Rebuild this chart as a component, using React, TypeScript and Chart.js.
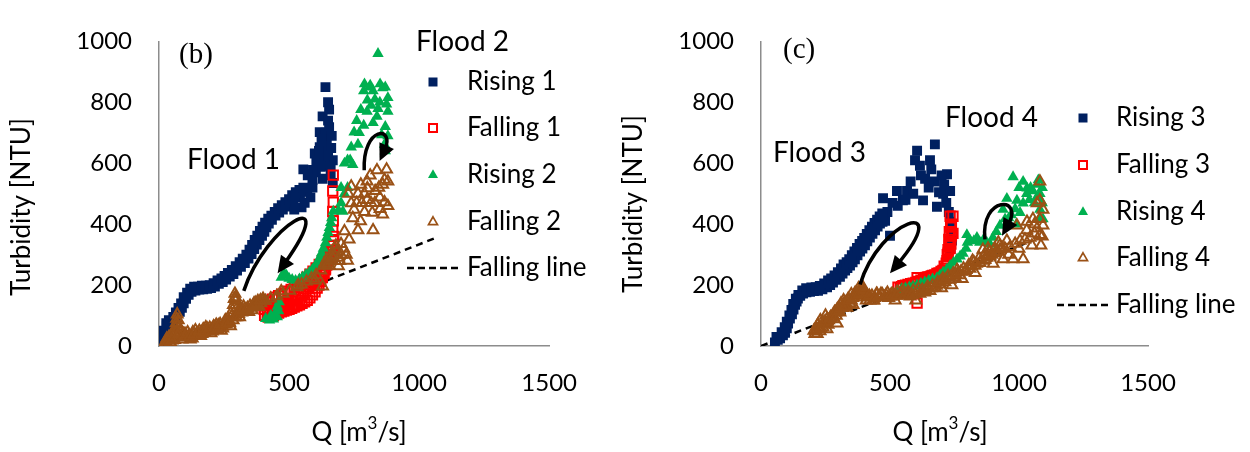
import React, { useEffect, useRef } from 'react';
import { Chart, registerables } from 'chart.js';

Chart.register(...registerables);

type Pt = [number, number];

// ---------------- DATA ----------------
const xTickValues = [0, 500, 1000, 1500];
const yTickValues = [0, 200, 400, 600, 800, 1000];

// Panel (b) — Flood 1 / Flood 2
const rising1: Pt[] = [
  [5, 5], [15, 12], [12, 30], [22, 45], [30, 65], [42, 70], [52, 75], [60, 88], [70, 100], [80, 112],
  [88, 125], [95, 140], [104, 155], [114, 168], [125, 178], [140, 182], [155, 185], [170, 186], [185, 188], [200, 190],
  [215, 195], [230, 204], [245, 210], [258, 218], [272, 228], [286, 236], [300, 248], [315, 260], [330, 272], [344, 287],
  [356, 302], [366, 318], [376, 333], [386, 348], [396, 362], [405, 375], [413, 390], [422, 402], [434, 414], [448, 428],
  [462, 438], [476, 448], [490, 458], [503, 468], [516, 478], [528, 488], [542, 498], [556, 506], [570, 510], [582, 488],
  [560, 470], [548, 455], [520, 448], [590, 520], [555, 580], [580, 564], [603, 570], [629, 549], [599, 632], [618, 653],
  [640, 632], [636, 684], [618, 702], [654, 718], [629, 754], [654, 776], [640, 850], [668, 610], [660, 561], [647, 592],
  [612, 598], [626, 620], [645, 660], [662, 650], [640, 700], [625, 680], [650, 740], [664, 690], [650, 800], [622, 588],
  [592, 578], [572, 560], [668, 535], [605, 610], [635, 600], [615, 640], [650, 625], [590, 545], [660, 590],
  [8, 20], [18, 50], [28, 75], [38, 85], [55, 95], [65, 110], [75, 125], [85, 140], [95, 160], [108, 175],
  [120, 188], [135, 195], [150, 195], [165, 198], [180, 198], [195, 200], [210, 206], [225, 215], [240, 222], [252, 230],
  [265, 240], [280, 250], [295, 262], [310, 275], [322, 287], [336, 300], [348, 316], [358, 332], [368, 348], [378, 362],
  [388, 378], [398, 392], [408, 405], [420, 418], [432, 428], [445, 440], [458, 452], [472, 462], [486, 472], [500, 482],
  [512, 495], [526, 505], [540, 512], [555, 520],
];
const falling1: Pt[] = [
  [670, 561], [668, 509], [670, 472], [668, 442], [670, 411], [668, 380], [672, 360], [670, 345], [668, 330], [665, 315],
  [660, 300], [655, 290], [650, 278], [645, 266], [640, 254], [632, 244], [624, 234], [616, 226], [606, 218], [596, 210],
  [586, 202], [576, 194], [566, 188], [556, 180], [546, 172], [536, 166], [526, 160], [516, 154], [506, 148], [496, 142],
  [486, 136], [476, 131], [466, 126], [456, 122], [446, 117], [436, 113], [426, 108], [416, 104], [406, 101],
  [660, 330], [650, 310], [640, 295], [628, 280], [616, 268], [604, 256], [592, 246], [580, 236], [568, 226], [556, 216],
  [544, 208], [532, 200], [520, 193], [508, 186], [496, 180], [484, 174], [472, 170], [460, 165], [448, 160], [436, 154],
  [424, 148], [412, 143], [404, 135], [404, 120],
  [420, 95], [440, 100], [460, 108], [480, 115], [500, 120], [520, 128], [540, 135], [560, 145], [580, 158], [600, 178],
  [615, 200], [628, 225], [640, 250], [450, 105], [470, 112], [490, 118], [510, 124], [530, 132], [550, 140], [570, 150],
  [590, 168], [608, 190], [622, 212], [635, 238],
];
const rising2: Pt[] = [
  [410, 90], [425, 85], [440, 88], [455, 95], [445, 105], [430, 100], [460, 115], [455, 130], [462, 145], [470, 225],
  [480, 240], [490, 232], [500, 222], [512, 218], [525, 215], [540, 220], [552, 226], [565, 234], [578, 242], [590, 252],
  [600, 262], [610, 275], [618, 290], [625, 305], [632, 320], [640, 338], [645, 356], [650, 372], [655, 388], [660, 405],
  [664, 420], [670, 442], [690, 445], [707, 442], [700, 470], [713, 500], [725, 520], [745, 595], [713, 600], [735, 610],
  [765, 662], [739, 653], [750, 702], [787, 724], [776, 776], [801, 807], [812, 856], [860, 847], [842, 960], [875, 794],
  [838, 754], [856, 693], [867, 662], [823, 733], [787, 837], [823, 837], [849, 800], [842, 779], [870, 850], [880, 815],
  [810, 850], [800, 770], [770, 700], [880, 770], [870, 720], [760, 740], [870, 640], [880, 690], [830, 810], [790, 860],
  [815, 790], [850, 860], [725, 610], [700, 520],
];
const falling2: Pt[] = [
  [22, 9], [35, 18], [48, 28], [58, 45], [62, 60], [68, 90], [70, 104], [74, 85], [78, 60], [80, 50],
  [90, 35], [107, 28], [125, 34], [144, 40], [162, 45], [181, 49], [200, 54], [218, 58], [232, 62], [244, 64],
  [258, 72], [270, 80], [280, 100], [286, 135], [292, 172], [296, 150], [300, 125], [306, 105], [318, 110], [336, 118],
  [355, 126], [374, 134], [392, 141], [410, 148], [429, 156], [453, 164], [477, 172], [503, 182], [530, 193], [548, 202],
  [567, 212], [586, 222], [604, 233], [622, 248], [641, 264], [663, 294], [675, 320], [650, 280], [690, 262],
  [30, 25], [45, 12], [60, 20], [100, 40], [120, 22], [140, 52], [160, 33], [180, 62], [200, 42], [220, 70],
  [240, 50], [255, 85], [275, 65], [290, 95], [310, 95], [325, 130], [345, 112], [365, 140], [385, 128], [400, 155],
  [645, 285], [655, 265],
  [25, 15], [40, 22], [55, 30], [70, 32], [85, 30], [95, 40], [115, 35], [130, 45], [150, 42], [170, 55],
  [190, 52], [210, 65], [228, 68], [250, 72], [265, 90], [283, 118], [289, 155], [294, 160], [302, 112], [315, 120],
  [330, 122], [350, 132], [370, 142], [380, 148], [398, 150], [470, 180], [535, 200], [600, 215],
  [638, 272], [660, 280], [672, 300], [685, 310], [700, 335], [690, 290],
  [28, 5], [38, 30], [50, 18], [65, 45], [72, 70], [66, 75], [76, 40], [88, 22], [98, 30], [110, 45],
  [118, 30], [128, 25], [135, 38], [155, 50], [165, 40], [175, 45], [185, 58], [195, 60], [205, 48], [215, 62],
  [225, 55], [235, 72], [245, 58], [262, 78], [272, 75], [285, 85], [298, 95], [312, 115], [322, 118], [340, 125],
  [358, 118], [362, 132], [378, 138], [390, 150], [650, 270], [668, 290],
  [629, 196], [695, 279], [720, 300], [680, 330], [731, 350], [713, 377], [765, 380], [775, 410], [823, 380], [860, 432],
  [820, 438], [750, 448], [790, 440], [739, 469], [765, 500], [815, 470], [849, 488], [867, 472], [801, 518], [776, 530],
  [831, 509], [728, 500], [739, 524], [838, 577], [875, 580], [867, 546], [860, 530], [700, 300], [710, 320], [725, 280],
  [745, 420], [800, 480], [780, 470], [850, 450], [880, 460], [880, 540], [812, 560], [790, 500], [845, 520], [830, 470],
  [760, 470], [800, 540],
];
const fallingLineB: Pt[] = [[0, 0], [1067, 356]];

// Panel (c) — Flood 3 / Flood 4
const rising3: Pt[] = [
  [54, 12], [65, 20], [74, 25], [85, 35], [93, 43], [100, 58], [105, 74], [112, 90], [120, 104], [126, 120],
  [132, 135], [138, 146], [143, 156], [152, 165], [163, 172], [176, 176], [190, 178], [205, 180], [221, 181], [238, 186],
  [256, 193], [268, 200], [279, 208], [292, 217], [306, 227], [316, 238], [326, 248], [335, 256], [345, 264], [355, 275],
  [364, 285], [374, 298], [384, 310], [393, 320], [403, 331], [412, 344], [422, 356], [432, 368], [442, 380], [452, 392],
  [461, 402], [471, 408], [481, 411], [500, 362], [473, 485], [527, 509], [566, 509], [590, 500], [550, 478], [628, 478],
  [530, 460], [490, 440], [605, 641], [597, 610], [616, 592], [655, 610], [660, 580], [636, 549], [674, 540], [721, 564],
  [674, 662], [706, 500], [733, 509], [690, 505], [682, 457], [718, 470], [728, 440], [733, 408], [740, 386], [735, 365],
  [740, 346], [735, 320], [620, 560], [580, 540], [650, 520], [700, 560], [710, 530], [560, 480], [510, 470],
  [60, 30], [80, 45], [92, 62], [100, 80], [110, 100], [118, 118], [125, 138], [135, 155], [145, 168], [160, 182],
  [175, 190], [195, 192], [212, 193], [228, 197], [245, 205], [260, 215], [272, 222], [285, 232], [298, 242], [310, 255],
  [320, 268], [332, 275], [342, 285], [352, 298], [362, 310], [372, 322], [382, 335], [392, 345], [400, 355], [410, 368],
  [420, 380], [430, 392], [440, 404], [450, 415], [460, 425], [470, 435],
];
const falling3: Pt[] = [
  [733, 426], [744, 426], [738, 362], [744, 370], [733, 340], [725, 316], [725, 295], [721, 280], [721, 264], [714, 255],
  [705, 248], [690, 240], [674, 233], [660, 230], [647, 227], [630, 220], [609, 212], [590, 206], [570, 202], [550, 198],
  [531, 193], [540, 190], [605, 141], [605, 224], [655, 227], [725, 305], [730, 330], [728, 350],
  [735, 390], [738, 400], [730, 375], [722, 300], [718, 272], [710, 262], [698, 245], [682, 238], [666, 232], [640, 225],
  [620, 216], [600, 209], [580, 205], [560, 200], [545, 195], [733, 320], [736, 335],
];
const rising4: Pt[] = [
  [527, 181], [545, 188], [560, 190], [575, 193], [589, 196], [605, 200], [620, 205], [635, 210], [650, 215], [665, 220],
  [682, 224], [694, 233], [706, 242], [720, 252], [733, 264], [746, 274], [760, 285], [772, 295], [783, 304], [795, 320],
  [800, 340], [798, 365], [810, 346], [825, 345], [837, 356], [848, 340], [860, 346], [875, 340], [888, 334], [899, 356],
  [912, 375], [926, 396], [946, 417], [938, 448], [953, 484], [992, 478], [977, 555], [1000, 520], [1016, 540], [1031, 518],
  [1054, 509], [1070, 530], [1081, 500], [1060, 470], [1081, 448], [1093, 417], [1016, 469], [1004, 438], [970, 430], [990, 400],
  [960, 420], [1040, 480], [1070, 490], [1090, 470], [1080, 420], [1045, 520], [1030, 500], [985, 450], [1090, 520], [1075, 545],
];
const falling4: Pt[] = [
  [209, 40], [215, 55], [220, 70], [229, 49], [240, 62], [250, 75], [262, 85], [279, 101], [290, 110], [300, 125],
  [318, 132], [330, 138], [345, 141], [360, 160], [372, 172], [385, 185], [395, 193], [400, 175], [410, 160], [422, 150],
  [440, 158], [461, 163], [480, 162], [500, 163], [520, 168], [539, 172], [560, 168], [578, 163], [597, 170], [616, 172],
  [635, 176], [655, 181], [675, 192], [694, 202], [713, 210], [733, 218], [752, 226], [771, 233], [790, 244], [810, 254],
  [830, 264], [849, 273], [868, 283], [888, 294], [907, 305], [926, 316], [945, 320], [965, 325], [985, 336], [1004, 346],
  [1023, 350], [1043, 356], [1060, 370], [1070, 386], [1081, 417], [1070, 469], [1081, 540], [1054, 417], [1031, 408], [992, 396],
  [953, 346], [1016, 285], [977, 285], [938, 285], [860, 316], [1081, 478], [1093, 448], [1093, 396], [1081, 365], [900, 270],
  [960, 300], [1000, 320], [1050, 330], [1085, 330], [1090, 360], [830, 240], [780, 220], [740, 200], [700, 190], [880, 300],
  [920, 340], [1060, 400], [250, 100], [230, 85], [320, 150], [350, 170], [450, 170], [520, 150], [600, 150], [650, 190],
  [700, 215], [760, 250], [820, 280], [880, 320], [1030, 380], [256, 55], [295, 74], [306, 110], [333, 126], [357, 135],
  [384, 178], [411, 166], [434, 150], [512, 163], [566, 172],
  [212, 48], [225, 62], [240, 72], [255, 88], [270, 95], [285, 112], [295, 120], [310, 140], [325, 145], [338, 155],
  [350, 150], [365, 175], [378, 190], [390, 180], [405, 170], [418, 160], [430, 165], [448, 172], [470, 170], [490, 175],
  [510, 172], [530, 178], [550, 182], [570, 178], [590, 182], [610, 188], [625, 185], [645, 195], [665, 200], [685, 210],
  [705, 222], [725, 230], [745, 238], [765, 242], [785, 255], [805, 265], [825, 275], [845, 288], [865, 298], [885, 310],
  [905, 320], [925, 330],
  [205, 50], [218, 40], [232, 58], [245, 80], [260, 70], [268, 92], [282, 88], [292, 100], [303, 115], [315, 125],
  [325, 130], [340, 150], [355, 158], [368, 165], [380, 170], [388, 193], [398, 185], [408, 150], [420, 165], [438, 150],
  [455, 160], [465, 172], [485, 168], [495, 158], [505, 170], [525, 165], [545, 175], [555, 165], [575, 172], [585, 168],
  [605, 178], [620, 178], [640, 185], [660, 190], [680, 198], [695, 210], [715, 218], [735, 225], [755, 235], [775, 245],
  [795, 250], [815, 262], [835, 270], [855, 280], [875, 290], [895, 300], [915, 310], [935, 322],
];
const fallingLineC: Pt[] = [[0, 0], [1050, 345]];

// Curved arrows: [tail, control 1, control 2, head] in data units
const arrowsB: Pt[][] = [
  [[326, 181], [411, 402], [707, 540], [456, 239]],
  [[789, 577], [782, 724], [911, 724], [848, 607]],
];
const arrowsC: Pt[][] = [
  [[384, 202], [461, 417], [752, 494], [500, 239]],
  [[868, 350], [849, 494], [1023, 494], [934, 362]],
];

const legendB = ['Rising 1', 'Falling 1', 'Rising 2', 'Falling 2', 'Falling line'];
const legendC = ['Rising 3', 'Falling 3', 'Rising 4', 'Falling 4', 'Falling line'];

// ---------------- STYLE ----------------
const NAVY = '#002060';
const RED = '#FF0000';
const GREEN = '#00B050';
const BROWN = '#9A5116';
const TEXT = '#000000';
const FONT = 'Lato';
const AXIS = '#8c8c8c';

type Kind = 'sq' | 'osq' | 'tri' | 'otri' | 'line';
const kinds: Kind[] = ['sq', 'osq', 'tri', 'otri', 'line'];

interface Label { text: string; x: number; y: number; size: number; serif?: boolean }
interface Spec {
  key: string;
  left: number;
  width: number;
  areaLeft: number;
  areaRight: number;
  series: Pt[][];
  line: Pt[];
  arrows: Pt[][];
  legend: string[];
  legendMarkerX: number;
  legendTextX: number;
  legendRows: number[];
  legendLine: [number, number];
  labels: Label[];
  yTitle: [number, number];
  xTitle: [number, number];
}

const specs: Spec[] = [
  {
    key: 'b', left: 0, width: 600, areaLeft: 159, areaRight: 564,
    series: [rising1, falling1, rising2, falling2], line: fallingLineB, arrows: arrowsB,
    legend: legendB, legendMarkerX: 433, legendTextX: 467, legendRows: [82, 128, 175, 222, 268], legendLine: [407, 462],
    labels: [
      { text: 'Flood 2', x: 416, y: 42, size: 28 },
      { text: 'Flood 1', x: 187, y: 160, size: 28 },
      { text: '(b)', x: 179, y: 55, size: 29, serif: true },
    ],
    yTitle: [22, 207], xTitle: [359, 433],
  },
  {
    key: 'c', left: 600, width: 650, areaLeft: 161, areaRight: 548,
    series: [rising3, falling3, rising4, falling4], line: fallingLineC, arrows: arrowsC,
    legend: legendC, legendMarkerX: 483, legendTextX: 516, legendRows: [118, 165, 212, 258, 305], legendLine: [457, 510],
    labels: [
      { text: 'Flood 3', x: 173, y: 153, size: 28 },
      { text: 'Flood 4', x: 345, y: 118, size: 28 },
      { text: '(c)', x: 183, y: 50, size: 29, serif: true },
    ],
    yTitle: [34, 204], xTitle: [340, 433],
  },
];

function drawMarker(ctx: CanvasRenderingContext2D, kind: Kind, x: number, y: number) {
  ctx.save();
  if (kind === 'sq') {
    ctx.fillStyle = NAVY;
    ctx.fillRect(x - 4.5, y - 4.5, 9, 9);
  } else if (kind === 'osq') {
    ctx.strokeStyle = RED;
    ctx.lineWidth = 2;
    ctx.strokeRect(x - 4, y - 4, 8, 8);
  } else if (kind === 'tri' || kind === 'otri') {
    const r = kind === 'tri' ? 5.8 : 5.2;
    ctx.beginPath();
    ctx.moveTo(x, y - r);
    ctx.lineTo(x + r * Math.sin((2 * Math.PI) / 3), y - r * Math.cos((2 * Math.PI) / 3));
    ctx.lineTo(x + r * Math.sin((4 * Math.PI) / 3), y - r * Math.cos((4 * Math.PI) / 3));
    ctx.closePath();
    if (kind === 'tri') {
      ctx.fillStyle = GREEN;
      ctx.fill();
    } else {
      ctx.strokeStyle = BROWN;
      ctx.lineWidth = 1.7;
      ctx.stroke();
    }
  }
  ctx.restore();
}

function makePlugin(spec: Spec) {
  return {
    id: 'annot' + spec.key,
    afterDatasetsDraw(chart: any) {
      const ctx: CanvasRenderingContext2D = chart.ctx;
      const xs = chart.scales.x;
      const ys = chart.scales.y;
      ctx.save();
      for (const a of spec.arrows) {
        const p = a.map(([x, y]) => [xs.getPixelForValue(x), ys.getPixelForValue(y)]);
        const [p0, c1, c2, p3] = p;
        const dx = p3[0] - c2[0];
        const dy = p3[1] - c2[1];
        const L = Math.hypot(dx, dy) || 1;
        const ux = dx / L;
        const uy = dy / L;
        const head = 17;
        const hw = 8;
        const ex = p3[0] - ux * head * 0.7;
        const ey = p3[1] - uy * head * 0.7;
        ctx.beginPath();
        ctx.moveTo(p0[0], p0[1]);
        ctx.bezierCurveTo(c1[0], c1[1], c2[0], c2[1], ex, ey);
        ctx.lineWidth = 3.5;
        ctx.strokeStyle = '#000';
        ctx.lineCap = 'butt';
        ctx.stroke();
        const bx = p3[0] - ux * head;
        const by = p3[1] - uy * head;
        ctx.beginPath();
        ctx.moveTo(p3[0], p3[1]);
        ctx.lineTo(bx - uy * hw, by + ux * hw);
        ctx.lineTo(bx + uy * hw, by - ux * hw);
        ctx.closePath();
        ctx.fillStyle = '#000';
        ctx.fill();
      }
      ctx.restore();
    },
    afterDraw(chart: any) {
      const ctx: CanvasRenderingContext2D = chart.ctx;
      ctx.save();
      ctx.fillStyle = TEXT;
      ctx.textBaseline = 'middle';
      ctx.textAlign = 'left';
      for (const l of spec.labels) {
        ctx.font = l.serif ? `${l.size}px "Liberation Serif"` : `${l.size}px ${FONT}`;
        ctx.fillText(l.text, l.x, l.y);
      }
      ctx.font = `26px ${FONT}`;
      spec.legend.forEach((name, i) => {
        const y = spec.legendRows[i];
        const k = kinds[i];
        if (k === 'line') {
          ctx.save();
          ctx.strokeStyle = '#000';
          ctx.lineWidth = 2.5;
          ctx.setLineDash([7, 4]);
          ctx.beginPath();
          ctx.moveTo(spec.legendLine[0], y);
          ctx.lineTo(spec.legendLine[1], y);
          ctx.stroke();
          ctx.restore();
        } else {
          drawMarker(ctx, k, spec.legendMarkerX, y);
        }
        ctx.fillStyle = TEXT;
        ctx.fillText(name, spec.legendTextX, y);
      });
      ctx.save();
      ctx.translate(spec.yTitle[0], spec.yTitle[1]);
      ctx.rotate(-Math.PI / 2);
      ctx.textAlign = 'center';
      ctx.font = `26px ${FONT}`;
      ctx.fillText('Turbidity [NTU]', 0, 0);
      ctx.restore();
      const a = 'Q [m';
      const s = '3';
      const b = '/s]';
      ctx.font = `26px ${FONT}`;
      const wa = ctx.measureText(a).width;
      const wb = ctx.measureText(b).width;
      ctx.font = `17px ${FONT}`;
      const ws = ctx.measureText(s).width;
      let x0 = spec.xTitle[0] - (wa + ws + wb) / 2;
      const yy = spec.xTitle[1];
      ctx.font = `26px ${FONT}`;
      ctx.fillText(a, x0, yy);
      x0 += wa;
      ctx.font = `17px ${FONT}`;
      ctx.fillText(s, x0, yy - 9);
      x0 += ws;
      ctx.font = `26px ${FONT}`;
      ctx.fillText(b, x0, yy);
      ctx.restore();
    },
  };
}

const toXY = (a: Pt[]) => a.map(([x, y]) => ({ x, y }));
const plain = (v: any) => String(v);

function Panel({ spec }: { spec: Spec }) {
  const ref = useRef<HTMLCanvasElement>(null);
  useEffect(() => {
    const canvas = ref.current;
    if (!canvas) return;
    const [s1, s2, s3, s4] = spec.series;
    const chart = new Chart(canvas, {
      type: 'scatter',
      data: {
        datasets: [
          { label: spec.legend[0], data: toXY(s1), pointStyle: 'rect', pointRadius: 7, backgroundColor: NAVY, borderColor: NAVY, borderWidth: 0, order: 5 },
          { label: spec.legend[1], data: toXY(s2), pointStyle: 'rect', pointRadius: 6.6, backgroundColor: 'rgba(0,0,0,0)', borderColor: RED, borderWidth: 2, order: 4 },
          { label: spec.legend[2], data: toXY(s3), pointStyle: 'triangle', pointRadius: 6.6, backgroundColor: GREEN, borderColor: GREEN, borderWidth: 0, order: 3 },
          { label: spec.legend[3], data: toXY(s4), pointStyle: 'triangle', pointRadius: 6.2, backgroundColor: 'rgba(0,0,0,0)', borderColor: BROWN, borderWidth: 2, order: 2 },
          { label: spec.legend[4], data: toXY(spec.line), showLine: true, pointRadius: 0, borderColor: '#000', borderWidth: 2.5, borderDash: [7, 5], order: 6 } as any,
        ],
      },
      options: {
        responsive: false,
        animation: false,
        devicePixelRatio: 1,
        events: [],
        layout: { padding: { left: 0, top: 20, right: spec.width - spec.areaRight, bottom: 0 } },
        plugins: { legend: { display: false }, tooltip: { enabled: false } },
        scales: {
          x: {
            type: 'linear', min: 0, max: 1500,
            afterBuildTicks: (scale: any) => { scale.ticks = xTickValues.map((v) => ({ value: v })); },
            afterFit: (scale: any) => { scale.height = 106; },
            grid: { display: false, drawTicks: false },
            border: { display: true, color: AXIS, width: 1.5 },
            ticks: { padding: 23, color: TEXT, font: { family: FONT, size: 24 }, maxRotation: 0, callback: plain },
          },
          y: {
            type: 'linear', min: 0, max: 1000,
            afterBuildTicks: (scale: any) => { scale.ticks = yTickValues.map((v) => ({ value: v })); },
            afterFit: (scale: any) => { scale.width = spec.areaLeft; },
            grid: { display: false, drawTicks: false },
            border: { display: true, color: AXIS, width: 1.5 },
            ticks: { padding: 27, color: TEXT, font: { family: FONT, size: 24 }, callback: plain },
          },
        },
      } as any,
      plugins: [makePlugin(spec)],
    });
    return () => chart.destroy();
  }, [spec]);
  return (
    <canvas
      ref={ref}
      width={spec.width}
      height={452}
      style={{ position: 'absolute', left: spec.left, top: 0, width: spec.width, height: 452 }}
    />
  );
}

export default function App() {
  return (
    <div style={{ position: 'fixed', left: 0, top: 0, width: 1250, height: 452, background: '#fff', overflow: 'hidden' }}>
      {specs.map((s) => (
        <Panel key={s.key} spec={s} />
      ))}
    </div>
  );
}
